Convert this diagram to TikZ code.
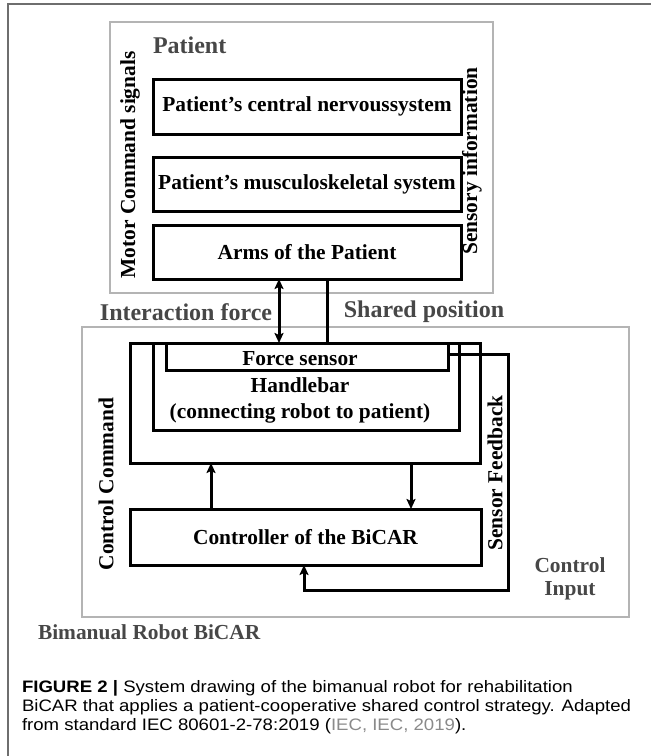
\documentclass[tikz,border=0pt]{standalone}
\usepackage{fontspec}
\setmainfont{Liberation Serif}
\newfontfamily\capsans[FakeStretch=1.12]{Liberation Sans}
\usetikzlibrary{arrows.meta}
\definecolor{framegray}{HTML}{6E6E6E}
\definecolor{boxgray}{HTML}{B4B4B4}
\definecolor{titlegray}{HTML}{474747}
\definecolor{citegray}{HTML}{8A8A8A}
\begin{document}
\begin{tikzpicture}[x=1pt,y=-1pt,
  blkbox/.style={draw=black,line width=3pt,inner sep=0pt,outer sep=0pt},
  graybox/.style={draw=boxgray,line width=2.5pt,inner sep=0pt,outer sep=0pt},
  lbl/.style={inner sep=0pt,outer sep=0pt,font=\bfseries\fontsize{21.4}{24}\selectfont},
  glbl/.style={lbl,text=titlegray},
  bigg/.style={inner sep=0pt,outer sep=0pt,text=titlegray,font=\bfseries\fontsize{24}{26}\selectfont},
  conn/.style={line width=3pt},
  arr/.style={conn,-{Stealth[length=10pt,width=9pt,inset=2pt]}},
  darr/.style={conn,{Stealth[length=10pt,width=9pt,inset=2pt]}-{Stealth[length=10pt,width=9pt,inset=2pt]}},
  captxt/.style={inner sep=0pt,outer sep=0pt,anchor=base west,font=\capsans\fontsize{16.6}{20}\selectfont}
]
\useasboundingbox (0,0) rectangle (651,756);
% outer frame
\coordinate (ftl) at (8,4);
\coordinate (ftr) at (651,4);
\coordinate (fbl) at (8,756);
\draw[framegray,line width=1.5pt] (ftr) -- (ftl) -- (fbl);

% patient part
\node[graybox,minimum width=383pt,minimum height=271pt] (patient) at (301.5,157.5) {};
\node[bigg,anchor=west] (ptitle) at (153,45) {Patient};
\node[blkbox,lbl,minimum width=308pt,minimum height=55pt] (cns) at (307,106.5) {Patient's central nervoussystem};
\node[blkbox,lbl,minimum width=308pt,minimum height=54pt] (msk) at (307,184) {Patient's musculoskeletal system};
\node[blkbox,lbl,minimum width=308pt,minimum height=54pt] (arms) at (307,252) {Arms of the Patient};
\node[lbl,rotate=90] (motor) at (130,165) {Motor Command signals};
\node[lbl,rotate=90] (sensory) at (472,161) {Sensory information};

\node[bigg] (iforce) at (186,312) {Interaction force};
\node[bigg] (spos) at (424,312) {Shared position};

% robot part
\node[graybox,minimum width=547pt,minimum height=290pt] (bicar) at (355.5,472) {};
\node[glbl,anchor=west] (bicart) at (38,632) {Bimanual Robot BiCAR};
\node[blkbox,minimum width=350pt,minimum height=120pt] (robot) at (305,403) {};
\node[blkbox,minimum width=306pt,minimum height=87pt] (handle) at (306,386.5) {};
\node[blkbox,lbl,minimum width=282pt,minimum height=27pt] (fs) at (307,356.5) {};
\node[lbl] (fst) at (300,359) {Force sensor};
\node[lbl,align=center] (handlet) at (300,400) {Handlebar\\[2pt](connecting robot to patient)};
\node[blkbox,lbl,minimum width=351pt,minimum height=56pt] (ctrl) at (305.5,537) {Controller of the BiCAR};
\node[lbl,rotate=90] (ccmd) at (106,484) {Control Command};
\node[lbl,rotate=90] (sfb) at (495,473) {Sensor Feedback};
\node[glbl] (ci1) at (570,565) {Control};
\node[glbl] (ci2) at (570,591) {Input};

% connectors
\coordinate (xia) at (279,0);
\coordinate (xsp) at (327,0);
\coordinate (xcc) at (211,0);
\coordinate (xsf) at (411,0);
\coordinate (fbr) at (508,590);
\coordinate (fbb) at (304,590);
\draw[darr] (arms.south -| xia) -- (robot.north -| xia);
\draw[conn] (arms.south -| xsp) -- (robot.north -| xsp);
\draw[arr] (ctrl.north -| xcc) -- (robot.south -| xcc);
\draw[arr] (robot.south -| xsf) -- (ctrl.north -| xsf);
\draw[arr] ([yshift=2pt]fs.east) -| (fbr) -- (fbb) -- (fbb |- ctrl.south);

% caption
\node[captxt] (c1) at (22,692) {\textbf{FIGURE 2 |} System drawing of the bimanual robot for rehabilitation};
\node[captxt] (c2) at (22,711) {BiCAR that applies a patient-cooperative shared control strategy. Adapted};
\node[captxt] (c3) at (22,730) {from standard IEC 80601-2-78:2019 ({\color{citegray}IEC, IEC, 2019}).};
\end{tikzpicture}
\end{document}
